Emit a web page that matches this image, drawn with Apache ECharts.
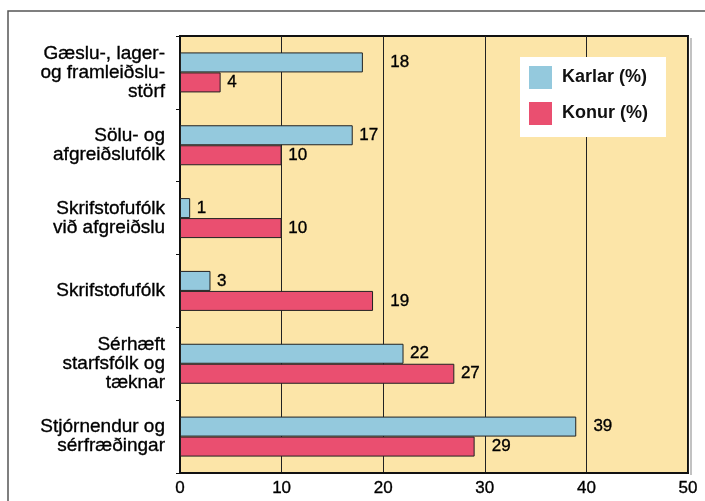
<!DOCTYPE html>
<html>
<head>
<meta charset="utf-8">
<script src="https://cdn.jsdelivr.net/npm/echarts@6/dist/echarts.min.js"></script>
<style>html,body{margin:0;padding:0;background:#fff}#c{width:705px;height:501px}</style>
</head>
<body>
<div id="c"></div>
<script>
const categories = [
  'Gæslu-, lager-\nog framleiðslu-\nstörf',
  'Sölu- og\nafgreiðslufólk',
  'Skrifstofufólk\nvið afgreiðslu',
  'Skrifstofufólk',
  'Sérhæft\nstarfsfólk og\ntæknar',
  'Stjórnendur og\nsérfræðingar'
];
const karlar = [18, 17, 1, 3, 22, 39];
const konur = [4, 10, 10, 19, 27, 29];
const seriesNames = ['Karlar (%)', 'Konur (%)'];
const xTicks = [0, 10, 20, 30, 40, 50];

const GRID = {left: 180, top: 36, width: 508, height: 437};
const PPU = GRID.width / (xTicks[xTicks.length - 1] - xTicks[0]);
const BASE = 6.6;
const FS = 17;

// push a value label past a gridline it would otherwise cross
function labelDistance(v) {
  const w = String(v).length * 0.556 * FS / PPU;
  const start = v + BASE / PPU, end = start + w;
  for (let i = 1; i < xTicks.length - 1; i++) {
    const g = xTicks[i];
    if (g >= start - 0.3 && g <= end + 0.3) return (g - v) * PPU + 7;
  }
  return BASE;
}
function items(arr) {
  return arr.map(v => ({value: v, label: {distance: labelDistance(v)}}));
}

const chart = echarts.init(document.getElementById('c'), null, {renderer: 'canvas'});
const font = "'Liberation Sans', Arial, Helvetica, sans-serif";
const heavy = {color: '#000', textBorderColor: '#000', textBorderWidth: 0.35, fontFamily: font};
chart.setOption({
  animation: false,
  textStyle: {fontFamily: font},
  graphic: [
    {type: 'rect', z: -10, shape: {x: 8, y: 11, width: 800, height: 600},
     style: {fill: 'none', stroke: '#555', lineWidth: 1.5}},
    {type: 'line', z: 10, shape: {x1: 691, y1: 38, x2: 691, y2: 475},
     style: {stroke: '#999', lineWidth: 1.2}}
  ],
  legend: {
    orient: 'vertical', left: 520, top: 57,
    itemWidth: 23, itemHeight: 23, itemGap: 13,
    backgroundColor: '#fff', padding: [9, 18, 12, 9],
    icon: 'rect',
    itemStyle: {borderWidth: 0},
    textStyle: {fontSize: 18, fontWeight: 'bold', color: '#111', fontFamily: font, padding: [0, 0, 0, 5]},
    data: seriesNames
  },
  grid: Object.assign({show: true, backgroundColor: '#FCE5A8', borderColor: '#111', borderWidth: 2}, GRID),
  xAxis: {
    type: 'value', min: xTicks[0], max: xTicks[xTicks.length - 1], interval: 10,
    axisLine: {show: true, lineStyle: {color: '#111', width: 2}},
    axisTick: {show: false},
    splitLine: {show: true, lineStyle: {color: '#222', width: 1}},
    axisLabel: Object.assign({fontSize: 17, margin: 7}, heavy)
  },
  yAxis: {
    type: 'category', inverse: true, data: categories,
    axisLine: {show: true, lineStyle: {color: '#111', width: 2}},
    axisTick: {show: true, length: 4, lineStyle: {color: '#111'}},
    axisLabel: Object.assign({fontSize: 19, lineHeight: 19, margin: 15, align: 'right'}, heavy)
  },
  series: [
    {name: seriesNames[0], type: 'bar', data: items(karlar), barWidth: 20, barGap: '0%',
     itemStyle: {color: '#94C9DD', borderColor: '#222', borderWidth: 1},
     label: Object.assign({show: true, position: 'right', fontSize: FS}, heavy)},
    {name: seriesNames[1], type: 'bar', data: items(konur), barWidth: 20, barGap: '0%',
     itemStyle: {color: '#EA4F70', borderColor: '#222', borderWidth: 1},
     label: Object.assign({show: true, position: 'right', fontSize: FS}, heavy)}
  ]
});
</script>
</body>
</html>
